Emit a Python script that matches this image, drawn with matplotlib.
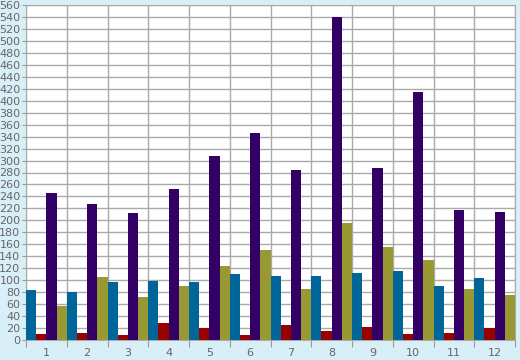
import matplotlib
matplotlib.use("Agg")
import matplotlib.pyplot as plt
import numpy as np

groups = ['1', '2', '3', '4', '5', '6', '7', '8', '9', '10', '11', '12']
blue = [84, 80, 97, 99, 97, 110, 107, 107, 112, 115, 90, 104]
red = [10, 12, 8, 28, 20, 8, 25, 15, 22, 10, 12, 20]
purple = [245, 227, 212, 252, 307, 346, 285, 540, 287, 415, 217, 214]
olive = [57, 105, 72, 91, 124, 150, 85, 195, 155, 134, 85, 75]

series = [blue, red, purple, olive]
colors = ['#006699', '#990000', '#330066', '#999933']

fig = plt.figure(figsize=(5.2, 3.6), dpi=100)
fig.patch.set_facecolor('#d9eff7')
ax = fig.add_axes([26/520, 20/360, 489/520, 335/360])
ax.set_facecolor('white')

x = np.arange(len(groups))
w = 0.25
for k, (vals, c) in enumerate(zip(series, colors)):
    ax.bar(x + (k + 0.5) * w, vals, width=w, color=c, linewidth=0, zorder=3)

ax.set_xlim(0, 12)
ax.set_ylim(0, 560)
ax.set_yticks(range(0, 561, 20))
ax.set_xticks(range(0, 13))
ax.set_xticklabels([])
ax.set_xticks(x + 0.5, minor=True)
ax.set_xticklabels(groups, minor=True)
ax.tick_params(axis='x', which='minor', length=0, pad=6)
ax.tick_params(axis='x', which='major', length=5, color='#999999')
ax.tick_params(axis='y', length=3, color='#999999', pad=1)
ax.tick_params(which='both', labelsize=8, labelcolor='#666666')
ax.grid(True, which='major', color='#aaaaaa', linewidth=1, zorder=0)
for s in ax.spines.values():
    s.set_color('#aaaaaa')

plt.savefig('out.png', dpi=100, facecolor=fig.get_facecolor())
